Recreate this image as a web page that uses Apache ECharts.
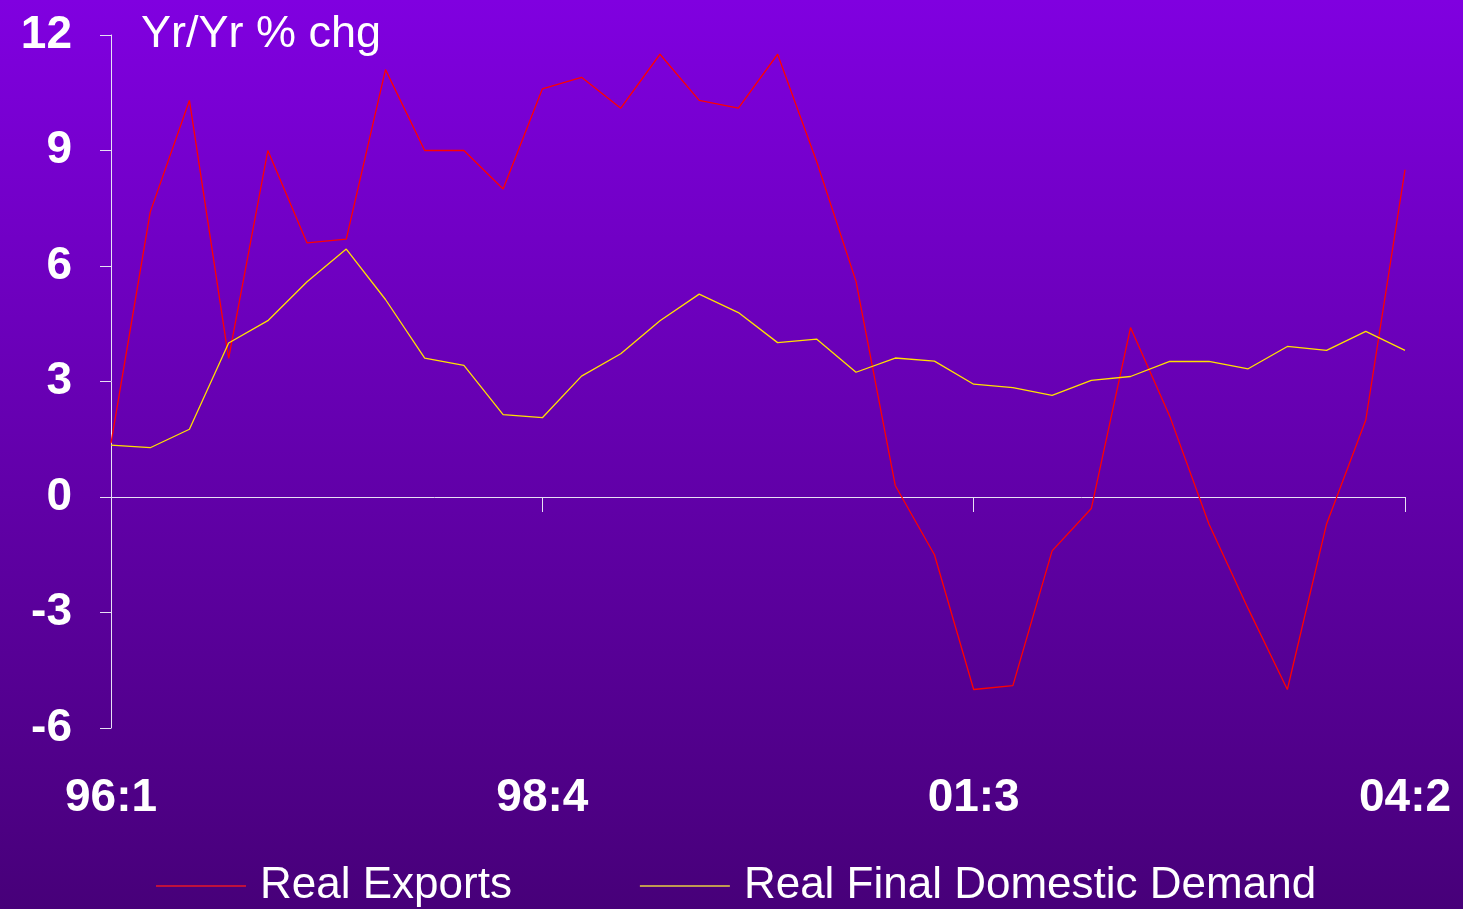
<!DOCTYPE html>
<html>
<head>
<meta charset="utf-8">
<script src="https://cdn.jsdelivr.net/npm/echarts@6/dist/echarts.min.js"></script>
<style>
  html, body { margin: 0; padding: 0; }
  #chart { width: 1463px; height: 909px; }
</style>
</head>
<body>
<div id="chart"></div>
<script>
const categories = ["96:1","96:2","96:3","96:4","97:1","97:2","97:3","97:4","98:1","98:2","98:3","98:4",
  "99:1","99:2","99:3","99:4","00:1","00:2","00:3","00:4","01:1","01:2","01:3","01:4",
  "02:1","02:2","02:3","02:4","03:1","03:2","03:3","03:4","04:1","04:2"];
const realExports = [1.4, 7.4, 10.3, 3.6, 9.0, 6.6, 6.7, 11.1, 9.0, 9.0, 8.0, 10.6,
  10.9, 10.1, 11.5, 10.3, 10.1, 11.5, 8.7, 5.6, 0.3, -1.5, -5.0, -4.9,
  -1.4, -0.3, 4.4, 2.1, -0.7, -2.9, -5.0, -0.7, 2.0, 8.5];
const realFinalDomesticDemand = [1.35, 1.28, 1.76, 4.0, 4.58, 5.59, 6.44, 5.13, 3.61, 3.42, 2.14, 2.06,
  3.14, 3.72, 4.58, 5.27, 4.79, 4.01, 4.10, 3.24, 3.61, 3.53, 2.93, 2.84,
  2.64, 3.03, 3.13, 3.52, 3.52, 3.33, 3.91, 3.81, 4.30, 3.81];
const seriesNames = ["Real Exports", "Real Final Domestic Demand"];
const titleText = "Yr/Yr % chg";

const FONT = "'Liberation Sans', Arial, sans-serif";
const chart = echarts.init(document.getElementById('chart'), null, { renderer: 'canvas' });
chart.setOption({
  animation: false,
  backgroundColor: {
    type: 'linear', x: 0, y: 0, x2: 0, y2: 1,
    colorStops: [{ offset: 0, color: '#8000E0' }, { offset: 1, color: '#470079' }]
  },
  title: {
    text: titleText,
    left: 136, top: 7,
    textStyle: { color: '#ffffff', fontSize: 45, fontWeight: 'normal', fontFamily: FONT }
  },
  legend: {
    left: 156, top: 864, padding: 0,
    icon: 'rect', itemWidth: 90, itemHeight: 2, itemGap: 128,
    data: [
      { name: seriesNames[0], itemStyle: { color: '#C0103C' } },
      { name: seriesNames[1], itemStyle: { color: '#C09A50' } }
    ],
    textStyle: { color: '#ffffff', fontSize: 44, fontFamily: FONT, padding: [0, 0, 0, 9] }
  },
  grid: { left: 111, right: 58, top: 35, bottom: 181, outerBoundsMode: 'none', containLabel: false },
  xAxis: {
    type: 'category', data: categories, boundaryGap: false,
    axisLine: { onZero: true, lineStyle: { color: '#E8E0F4', width: 1 } },
    axisTick: { show: true, interval: 10, length: 15, lineStyle: { color: '#E8E0F4' } },
    axisLabel: { interval: 10, margin: 47, color: '#ffffff', fontSize: 46, fontWeight: 'bold', fontFamily: FONT,
      showMinLabel: true, showMaxLabel: true },
    splitLine: { show: false }
  },
  yAxis: {
    type: 'value', min: -6, max: 12, interval: 3,
    axisLine: { show: true, lineStyle: { color: '#E8E0F4', width: 1 } },
    axisTick: { show: true, length: 11, lineStyle: { color: '#E8E0F4' } },
    axisLabel: { margin: 39, color: '#ffffff', fontSize: 46, fontWeight: 'bold', fontFamily: FONT,
      padding: [5, 0, 0, 0] },
    splitLine: { show: false }
  },
  series: [
    { name: seriesNames[0], type: 'line', data: realExports, symbol: 'none',
      lineStyle: { color: '#FF0000', width: 1.3 }, itemStyle: { color: '#FF0000' } },
    { name: seriesNames[1], type: 'line', data: realFinalDomesticDemand, symbol: 'none',
      lineStyle: { color: '#FFE000', width: 1.3 }, itemStyle: { color: '#FFE000' } }
  ]
});
</script>
</body>
</html>
